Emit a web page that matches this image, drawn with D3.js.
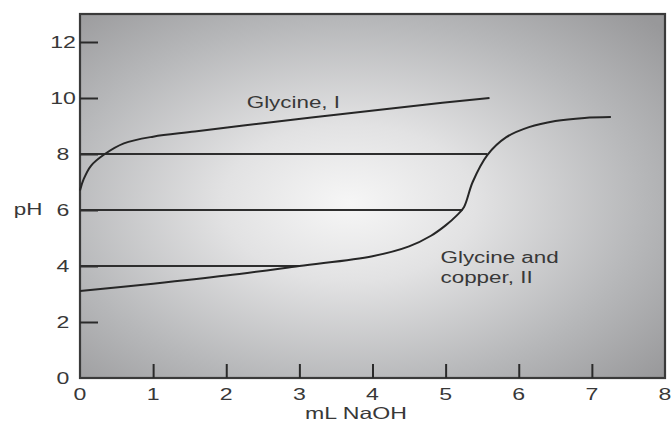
<!DOCTYPE html>
<html><head><meta charset="utf-8">
<script src="https://cdn.jsdelivr.net/npm/d3@7"></script>
<style>html,body{margin:0;padding:0;background:#fff;}svg{display:block;}</style>
</head><body>
<script>
const xTicks = [0,1,2,3,4,5,6,7,8];
const yTicks = [0,2,4,6,8,10,12];
const glycineX = [0, 0.05, 0.15, 0.34, 0.6, 1.0, 1.57, 2.5, 3.5, 4.5, 5.6];
const glycineY = [6.7, 7.1, 7.58, 8.0, 8.38, 8.62, 8.8, 9.1, 9.4, 9.7, 10.0];
const copperX = [0, 1, 2, 3, 4, 4.5, 4.8, 5.0, 5.15, 5.25, 5.37, 5.57, 5.83, 6.14, 6.5, 6.9, 7.26];
const copperY = [3.11, 3.37, 3.66, 4.0, 4.35, 4.7, 5.08, 5.45, 5.8, 6.1, 7.0, 7.96, 8.6, 8.96, 9.18, 9.29, 9.32];
const hLineY = [8, 6, 4];
const hLineEnd = [5.57, 5.23, 3.0];
const labels = ["Glycine, I", "Glycine and", "copper, II"];
const labelX = [2.28, 4.93, 4.93];
const labelY = [9.65, 4.1, 3.4];

const W = 672, H = 422;
const svg = d3.select("body").append("svg").attr("width", W).attr("height", H);
const x = d3.scaleLinear().domain([0, 8]).range([80, 665]);
const y = d3.scaleLinear().domain([0, 12]).range([378, 42]);
const plotTop = y(13);

const defs = svg.append("defs");
const grad = defs.append("radialGradient").attr("id", "bg")
  .attr("cx", 0.46).attr("cy", 0.52).attr("r", 0.72);
grad.append("stop").attr("offset", 0).attr("stop-color", "#f6f6f6");
grad.append("stop").attr("offset", 0.3).attr("stop-color", "#e2e2e3");
grad.append("stop").attr("offset", 0.7).attr("stop-color", "#b6b7b9");
grad.append("stop").attr("offset", 1).attr("stop-color", "#98989a");

svg.append("rect").attr("x", x(0)).attr("y", plotTop)
  .attr("width", x(8) - x(0)).attr("height", y(0) - plotTop)
  .attr("fill", "url(#bg)").attr("stroke", "#3a3a3a").attr("stroke-width", 2.2);

const font = "'Liberation Sans', Arial, sans-serif";
const txtColor = "#383838";
const sx = 1.4;

const xAxis = d3.axisBottom(x).tickValues(xTicks.slice(1, 8)).tickSize(-14).tickFormat("");
svg.append("g").attr("transform", `translate(0,${y(0)})`).call(xAxis)
  .call(g => g.select(".domain").remove())
  .call(g => g.selectAll("line").attr("stroke", "#2a2a2a").attr("stroke-width", 2));
const yAxis = d3.axisLeft(y).tickValues(yTicks.slice(1)).tickSize(-18).tickFormat("");
svg.append("g").attr("transform", `translate(${x(0)},0)`).call(yAxis)
  .call(g => g.select(".domain").remove())
  .call(g => g.selectAll("line").attr("stroke", "#2a2a2a").attr("stroke-width", 2));

svg.append("g").selectAll("text").data(xTicks).join("text")
  .attr("transform", d => `translate(${x(d)},400) scale(${sx},1)`)
  .attr("text-anchor", "middle").attr("font-family", font).attr("font-size", 16.5)
  .attr("fill", txtColor).text(d => d);
svg.append("g").selectAll("text").data(yTicks).join("text")
  .attr("transform", d => `translate(63,${y(d) + 6}) scale(${sx},1)`)
  .attr("text-anchor", "middle").attr("font-family", font).attr("font-size", 16.5)
  .attr("fill", txtColor).text(d => d);

svg.append("text").attr("transform", `translate(28,215) scale(${sx},1)`)
  .attr("text-anchor", "middle").attr("font-family", font).attr("font-size", 16)
  .attr("fill", txtColor).text("pH");
svg.append("text").attr("transform", `translate(356,419) scale(${sx},1)`)
  .attr("text-anchor", "middle").attr("font-family", font).attr("font-size", 16.5)
  .attr("fill", txtColor).text("mL NaOH");

svg.append("g").selectAll("line").data(hLineY).join("line")
  .attr("x1", x(0)).attr("x2", (d, i) => x(hLineEnd[i]))
  .attr("y1", d => y(d)).attr("y2", d => y(d))
  .attr("stroke", "#2e2e2e").attr("stroke-width", 2);

const line = d3.line().x(d => x(d[0])).y(d => y(d[1])).curve(d3.curveCatmullRom.alpha(0.5));
svg.append("path").datum(d3.zip(glycineX, glycineY)).attr("d", line)
  .attr("fill", "none").attr("stroke", "#262626").attr("stroke-width", 2);
svg.append("path").datum(d3.zip(copperX, copperY)).attr("d", line)
  .attr("fill", "none").attr("stroke", "#262626").attr("stroke-width", 2);

svg.append("g").selectAll("text").data(labels).join("text")
  .attr("transform", (d, i) => `translate(${x(labelX[i])},${y(labelY[i])}) scale(${sx},1)`)
  .attr("font-family", font).attr("font-size", 16).attr("fill", txtColor).text(d => d);
</script>
</body></html>
